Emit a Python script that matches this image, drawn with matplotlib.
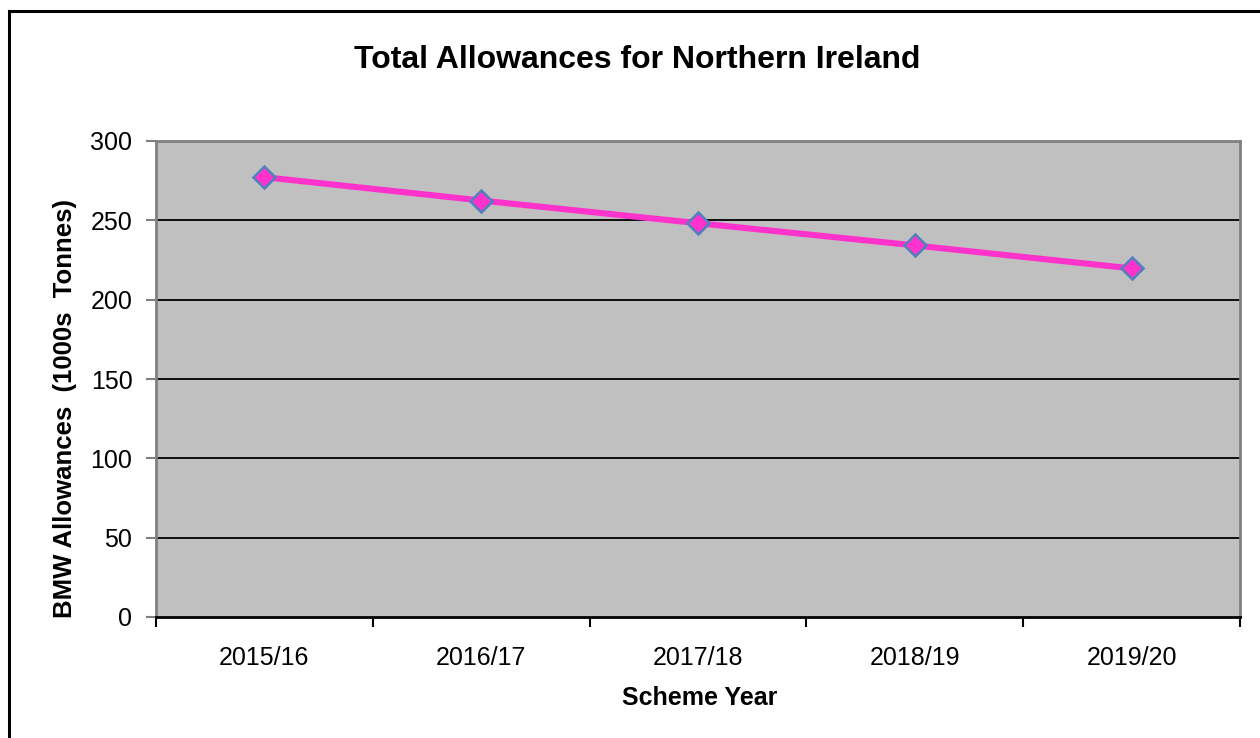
import matplotlib
matplotlib.use("Agg")
import matplotlib.pyplot as plt
from matplotlib.patches import Rectangle

categories = ["2015/16", "2016/17", "2017/18", "2018/19", "2019/20"]
values = [277.2, 262.5, 248.2, 234.2, 219.7]
yticks = [0, 50, 100, 150, 200, 250, 300]

plt.rcParams['font.family'] = ['Liberation Sans', 'DejaVu Sans']

fig = plt.figure(figsize=(12.6, 7.38), dpi=100)
fig.patches.append(Rectangle((9/1260, -0.05), 1.2, 1 - 11/738 + 0.05, transform=fig.transFigure,
                             fill=False, edgecolor='black', linewidth=2.2))
ax = fig.add_axes([156/1260, 1 - 617/738, (1240 - 156)/1260, (617 - 141)/738])
ax.set_facecolor('#C0C0C0')

x = list(range(len(categories)))
ax.plot(x, values, color='#FF33CC', linewidth=4.4, marker='D', markersize=11.5,
        markerfacecolor='#FF33CC', markeredgecolor='#4F81BD', markeredgewidth=1.8, zorder=3)

ax.set_xlim(-0.5, len(categories) - 0.5)
ax.set_ylim(0, 300)
ax.set_yticks(yticks)
ax.set_yticklabels([str(v) for v in yticks])
ax.set_xticks(x)
ax.set_xticklabels(categories)
ax.set_xticks([i - 0.5 for i in range(len(categories) + 1)], minor=True)
ax.tick_params(axis='x', which='major', length=0, labelsize=18, pad=21)
ax.tick_params(axis='x', which='minor', length=7, width=1.5, color='black', direction='out')
ax.tick_params(axis='y', length=7, width=1.5, color='#808080', labelsize=18, pad=10)

for v in yticks[1:-1]:
    ax.axhline(v, color='black', linewidth=1.3, zorder=1)

for s in ['left', 'top', 'right']:
    ax.spines[s].set_color('#808080')
    ax.spines[s].set_linewidth(2)
ax.spines['bottom'].set_color('black')
ax.spines['bottom'].set_linewidth(2)

fig.text(700/1260, 1 - 698/738, "Scheme Year", ha='center', va='center',
         fontsize=18, fontweight='bold')
fig.text(65/1260, 1 - 408/738, "BMW Allowances  (1000s  Tonnes)", ha='center', va='center',
         rotation=90, fontsize=18.5, fontweight='bold')
fig.text(637/1260, 1 - 60/738, "Total Allowances for Northern Ireland", ha='center', va='center',
         fontsize=23, fontweight='bold')

fig.savefig("out.png", dpi=100)
